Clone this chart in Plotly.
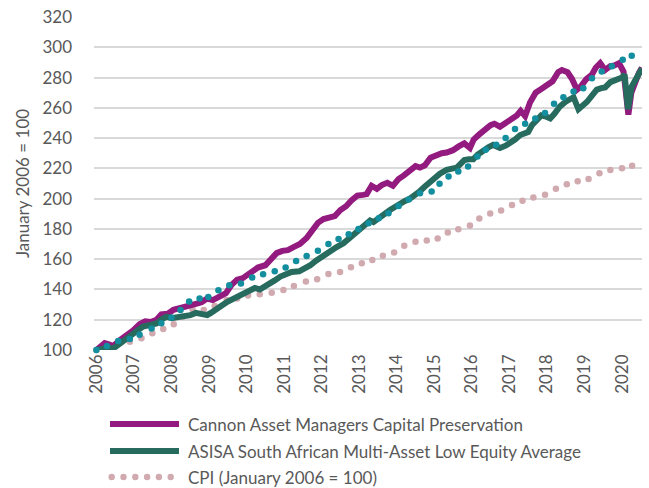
import plotly.graph_objects as go

# ---- data (decimal years, index values, Jan 2006 = 100) ----
cannon_t = [2006.0, 2006.1, 2006.22, 2006.35, 2006.45, 2006.6, 2006.8, 2006.98, 2007.15, 2007.3,
            2007.45, 2007.6, 2007.73, 2007.9, 2008.05, 2008.25, 2008.45, 2008.65, 2008.8, 2008.95,
            2009.1, 2009.3, 2009.45, 2009.6, 2009.75, 2009.9, 2010.1, 2010.3, 2010.5, 2010.65,
            2010.8, 2010.95, 2011.1, 2011.25, 2011.42, 2011.6, 2011.75, 2011.9, 2012.05, 2012.2,
            2012.35, 2012.5, 2012.65, 2012.8, 2012.95, 2013.1, 2013.2, 2013.33, 2013.47, 2013.6,
            2013.75, 2013.9, 2014.05, 2014.2, 2014.35, 2014.5, 2014.62, 2014.75, 2014.9, 2015.05,
            2015.2, 2015.33, 2015.5, 2015.65, 2015.8, 2015.95, 2016.05, 2016.2, 2016.35, 2016.5,
            2016.6, 2016.75, 2016.9, 2017.05, 2017.2, 2017.3, 2017.42, 2017.55, 2017.7, 2017.85,
            2018.0, 2018.15, 2018.3, 2018.4, 2018.55, 2018.67, 2018.8, 2018.9, 2019.05, 2019.2,
            2019.3, 2019.42, 2019.55, 2019.69, 2019.8, 2019.92, 2020.04, 2020.12, 2020.17, 2020.25,
            2020.35, 2020.45, 2020.53]
cannon_v = [100, 102, 104.5, 103.5, 102.5, 106, 109.5, 113, 117, 119,
            118.5, 120, 123.5, 124, 126.5, 127.5, 128.5, 130.5, 131.5, 134,
            133, 135, 137.5, 143, 146.5, 147.5, 151, 154.5, 156, 160,
            164, 165.5, 166, 168, 170, 174, 178.5, 184, 186.5, 187,
            188.5, 192.5, 195, 199, 202, 202.5, 203, 208.5, 206.5, 209,
            210.5, 208.5, 213, 215.5, 218.5, 221.5, 220.5, 222, 227, 229,
            230, 230.5, 232, 234.5, 236.5, 233.5, 239, 242.5, 246, 248.5,
            249.5, 247.5, 250, 252.5, 255, 258, 254.5, 263.5, 270, 272.5,
            275, 277.5, 283.5, 285, 283.5, 279, 272, 274, 279, 282,
            286.5, 289.5, 285, 287.5, 288, 289.5, 284, 270, 255.5, 270,
            278, 283, 286.5]

asisa_t = [2006.0, 2006.15, 2006.3, 2006.45, 2006.6, 2006.75, 2006.98, 2007.1, 2007.24, 2007.4,
           2007.6, 2007.75, 2007.87, 2008.0, 2008.15, 2008.3, 2008.5, 2008.65, 2008.8, 2008.95,
           2009.05, 2009.2, 2009.35, 2009.5, 2009.65, 2009.82, 2009.95, 2010.1, 2010.22, 2010.35,
           2010.5, 2010.62, 2010.75, 2010.9, 2011.05, 2011.2, 2011.4, 2011.55, 2011.7, 2011.85,
           2011.96, 2012.1, 2012.22, 2012.4, 2012.58, 2012.72, 2012.84, 2012.98, 2013.1, 2013.2,
           2013.29, 2013.38, 2013.5, 2013.64, 2013.82, 2013.95, 2014.09, 2014.22, 2014.35, 2014.5,
           2014.62, 2014.75, 2014.89, 2015.02, 2015.15, 2015.33, 2015.47, 2015.6, 2015.7, 2015.8,
           2015.92, 2016.04, 2016.15, 2016.3, 2016.45, 2016.57, 2016.75, 2016.9, 2017.02, 2017.15,
           2017.29, 2017.4, 2017.5, 2017.6, 2017.73, 2017.85, 2018.0, 2018.09, 2018.2, 2018.35,
           2018.5, 2018.6, 2018.71, 2018.84, 2018.95, 2019.07, 2019.2, 2019.33, 2019.45, 2019.55,
           2019.69, 2019.8, 2019.92, 2020.0, 2020.07, 2020.16, 2020.26, 2020.38, 2020.53]
asisa_v = [100, 101, 101.5, 101, 104, 106, 111, 113, 115.5, 116.5,
           117.5, 120.5, 122, 121, 121.5, 122.5, 123, 124.5, 123.5, 123,
           124.5, 126.5, 129.5, 132, 134, 135.5, 137, 139, 141, 140,
           142, 144, 146, 148.5, 150, 151.5, 152, 153.5, 156, 159,
           161, 162.5, 165, 168, 170.5, 173, 176, 179, 181.5, 184,
           185.5, 184.5, 187, 189.5, 192.5, 194.5, 197, 198.5, 200, 202.5,
           205, 208, 211, 214, 216.5, 219, 219.5, 220.5, 223, 225.5,
           226, 226, 229, 232, 234, 235.5, 233.5, 235, 236.5, 239,
           242, 243.5, 244, 248.5, 252, 255, 254, 253, 256, 261,
           264, 265.5, 267, 259, 261, 264, 268, 272, 273, 273.5,
           277, 278, 279, 280, 282, 259, 274, 280, 286]

bench_t = [2006.0, 2006.28, 2006.58, 2006.89, 2007.15, 2007.47, 2007.73, 2008.0, 2008.24, 2008.47,
           2008.75, 2008.98, 2009.25, 2009.54, 2009.85, 2010.15, 2010.44, 2010.75, 2011.04, 2011.32,
           2011.6, 2011.9, 2012.18, 2012.45, 2012.72, 2012.98, 2013.25, 2013.52, 2013.78, 2014.05,
           2014.32, 2014.62, 2014.93, 2015.14, 2015.38, 2015.64, 2015.9, 2016.15, 2016.37, 2016.65,
           2016.9, 2017.15, 2017.42, 2017.69, 2017.95, 2018.19, 2018.44, 2018.71, 2018.97, 2019.2,
           2019.46, 2019.73, 2020.02, 2020.26]
bench_v = [100, 102.7, 106, 107.2, 110, 114.2, 117.6, 121.4, 126.4, 132,
           134, 135, 139.5, 142.7, 144, 147.9, 150, 152, 154.5, 158.8,
           162.1, 165.5, 170, 173.4, 176.5, 180, 183.8, 187, 190.4, 195.2,
           199.5, 203.6, 204.7, 209.8, 214.6, 218, 221.2, 227.8, 232.3, 235.6,
           240, 246, 249.5, 253, 256.5, 262.7, 267, 270.8, 273, 279.6,
           284, 287.4, 291.8, 294.4]

cpi_t = [2006.0, 2006.28, 2006.58, 2006.89, 2007.2, 2007.49, 2007.78, 2008.06, 2008.3, 2008.56,
         2008.86, 2009.15, 2009.47, 2009.75, 2010.04, 2010.35, 2010.67, 2010.98, 2011.26, 2011.58,
         2011.88, 2012.18, 2012.49, 2012.78, 2013.07, 2013.35, 2013.63, 2013.93, 2014.2, 2014.5,
         2014.8, 2015.09, 2015.36, 2015.64, 2015.95, 2016.2, 2016.49, 2016.78, 2017.07, 2017.35,
         2017.64, 2017.95, 2018.24, 2018.53, 2018.82, 2019.11, 2019.4, 2019.69, 2020.0, 2020.27]
cpi_v = [100, 102.5, 104.4, 105.5, 107.7, 111, 113.9, 117, 122, 126.9,
         126.5, 129, 133, 134, 136, 136.8, 137.9, 139.7, 142.3, 145.2,
         146.7, 150.2, 151.6, 154.7, 157.3, 159.5, 162.2, 164.4, 168.8, 171.5,
         172.3, 173.6, 177.6, 179.8, 182.2, 186.8, 190.1, 192.1, 195.8, 198.6,
         200.7, 202.6, 206.5, 209.5, 211.5, 213, 216.8, 219, 220.1, 221.7]

year_ticks = list(range(2006, 2021))
year_labels = [str(y) for y in year_ticks]
y_ticks = list(range(100, 321, 20))

names = ["Cannon Asset Managers Capital Preservation",
         "ASISA South African Multi-Asset Low Equity Average",
         "CPI (January 2006 = 100)"]

PURPLE = "#931A7E"
GREEN = "#276A5E"
TEAL = "#128E9E"
PINK = "#D1AAB0"
GREY = "#595959"
FONT = "Lato"

# figure fills the 649x488 window (the page's default body margin is removed below)
W, H = 649, 488
ML, MR, MT, MB = 94, 7, 17, 138
PW, PH = W - ML - MR, H - MT - MB


def px_x(p):
    """window pixel x -> paper x"""
    return (p - ML) / PW


def px_y(p):
    """window pixel y -> paper y"""
    return (H - MB - p) / PH


fig = go.Figure()
fig.add_trace(go.Scatter(x=cpi_t, y=cpi_v, mode="markers", name=names[2],
                         marker=dict(color=PINK, size=6.5), cliponaxis=False))
fig.add_trace(go.Scatter(x=cannon_t, y=cannon_v, mode="lines", name=names[0],
                         line=dict(color=PURPLE, width=6)))
fig.add_trace(go.Scatter(x=asisa_t, y=asisa_v, mode="lines", name=names[1],
                         line=dict(color=GREEN, width=6)))
fig.add_trace(go.Scatter(x=bench_t, y=bench_v, mode="markers", name="",
                         marker=dict(color=TEAL, size=6.5), cliponaxis=False))

# ---- legend (drawn below the plot, Excel style) ----
shapes = []
annotations = []
rows = [424, 451, 477]
colors = [PURPLE, GREEN, PINK]
for i, (name, row, col) in enumerate(zip(names, rows, colors)):
    if i < 2:
        shapes.append(dict(type="line", xref="paper", yref="paper",
                           x0=px_x(110), x1=px_x(179), y0=px_y(row), y1=px_y(row),
                           line=dict(color=col, width=6)))
    else:
        for k in range(6):
            cx = 111.7 + k * 11.8
            shapes.append(dict(type="circle", xref="paper", yref="paper",
                               x0=px_x(cx - 3.2), x1=px_x(cx + 3.2),
                               y0=px_y(row + 3.2), y1=px_y(row - 3.2),
                               fillcolor=col, line=dict(width=0)))
    annotations.append(dict(text=name, xref="paper", yref="paper",
                            x=px_x(186), y=px_y(row), xanchor="left", yanchor="middle",
                            showarrow=False, font=dict(family=FONT, size=17, color=GREY)))

fig.update_layout(
    width=W, height=H,
    margin=dict(l=ML, r=MR, t=MT, b=MB, autoexpand=False),
    paper_bgcolor="white", plot_bgcolor="white",
    font=dict(family=FONT, size=17, color=GREY),
    showlegend=False,
    hovermode=False,
    shapes=shapes,
    annotations=annotations,
    xaxis=dict(range=[2005.936, 2020.533], tickmode="array", tickvals=year_ticks,
               ticktext=year_labels, tickangle=-90, showgrid=False, zeroline=False,
               showline=False, ticks="", tickfont=dict(size=17, color=GREY),
               automargin=False, ticklabeloverflow="allow"),
    yaxis=dict(range=[100, 320], tickmode="array", tickvals=y_ticks,
               showgrid=True, gridcolor="#D9D9D9", gridwidth=1.5, zeroline=False,
               showline=False, ticks="", tickfont=dict(size=17, color=GREY),
               ticklabelstandoff=21, automargin=False, ticklabeloverflow="allow",
               title=dict(text="January 2006 = 100", font=dict(size=17, color=GREY), standoff=8)),
)

fig.write_html("out.html",
               config={"displayModeBar": False},
               post_script="document.body.style.margin='0px';"
                           "document.body.style.overflow='hidden';")
